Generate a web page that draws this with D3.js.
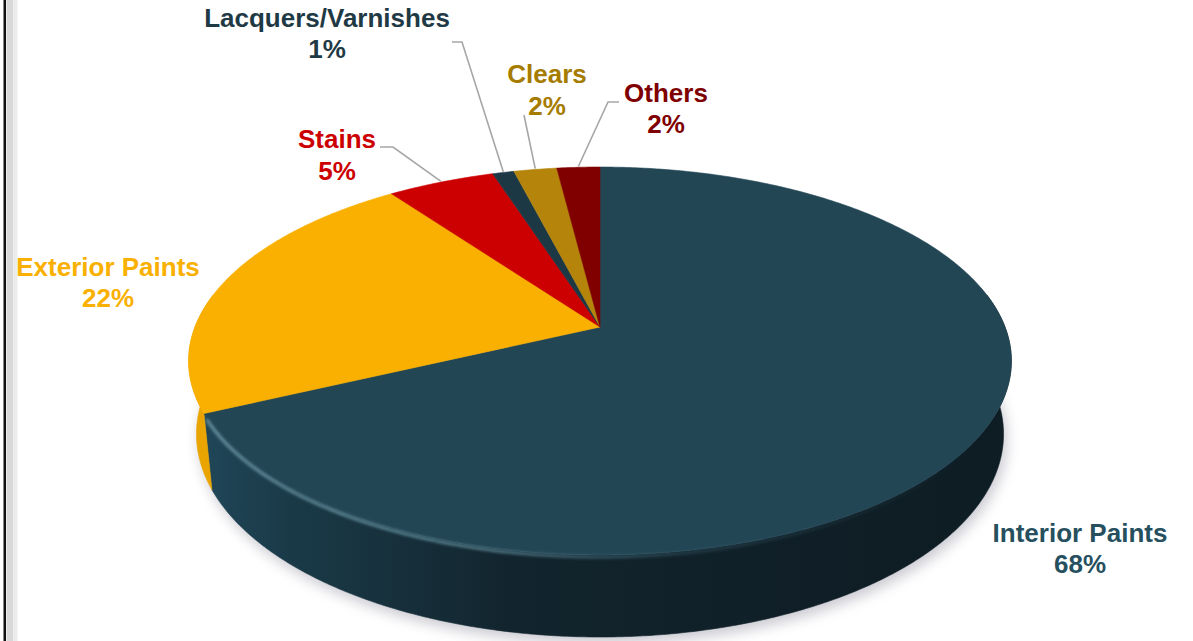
<!DOCTYPE html>
<html>
<head>
<meta charset="utf-8">
<script src="https://cdn.jsdelivr.net/npm/d3@7"></script>
<style>
  html, body { margin: 0; padding: 0; background: #ffffff; }
  svg { display: block; }
  text { font-family: "Liberation Sans", Arial, Helvetica, sans-serif; font-weight: bold; }
</style>
</head>
<body>
<svg id="chart" width="1193" height="641"></svg>
<script>
// Paint & coatings market share by product type (%)
const categories = ["Interior Paints", "Exterior Paints", "Stains", "Lacquers/Varnishes", "Clears", "Others"];
const shares = [68, 22, 5, 1, 2, 2];
const valueLabels = ["68%", "22%", "5%", "1%", "2%", "2%"];

// Colours per slice: top face, outer wall, label text
const topColors = ["#234655", "#f9b000", "#cc0000", "#1c3845", "#b5840a", "#800000"];
const wallColors = ["url(#wallInterior)", "#eaa400", "#a80000", "#14262f", "#94690a", "#600000"];
const labelColors = ["#27505f", "#f9b000", "#cc0000", "#1f3a45", "#a67c00", "#7f0000"];

// Label placement: centre x, first baseline, line gap; leader start and elbow (null = none)
const labelLayout = {
  "Interior Paints":    { x: 1080, y: 542, gap: 31, leader: null },
  "Exterior Paints":    { x: 108,  y: 276, gap: 31, leader: null },
  "Stains":             { x: 337,  y: 148, gap: 32, leader: [[380, 147], [393, 147]] },
  "Lacquers/Varnishes": { x: 327,  y: 27,  gap: 31, leader: [[452, 42], [462, 42]] },
  "Clears":             { x: 547,  y: 83,  gap: 32, leader: [[524, 115], [524, 115]] },
  "Others":             { x: 666,  y: 102, gap: 31, leader: [[619, 102], [608, 102]] }
};

const svg = d3.select("#chart");
const W = 1193, H = 641;

// Frame on the left edge
svg.append("rect").attr("x", 0).attr("y", 0).attr("width", W).attr("height", H).attr("fill", "#ffffff");
svg.append("rect").attr("x", 3.5).attr("y", 0).attr("width", 2.5).attr("height", H).attr("fill", "#111111");
svg.append("rect").attr("x", 6.5).attr("y", 0).attr("width", 7).attr("height", H).attr("fill", "#d9d9d9");
svg.append("rect").attr("x", 13.5).attr("y", 0).attr("width", 4).attr("height", H).attr("fill", "#ececec");

const defs = svg.append("defs");
const shadowBlur = defs.append("filter").attr("id", "shadowBlur")
  .attr("x", "-20%").attr("y", "-20%").attr("width", "140%").attr("height", "140%");
shadowBlur.append("feGaussianBlur").attr("stdDeviation", 7);
const softBlur = defs.append("filter").attr("id", "softBlur")
  .attr("x", "-10%").attr("y", "-10%").attr("width", "120%").attr("height", "120%");
softBlur.append("feGaussianBlur").attr("stdDeviation", 1.6);

const wallGrad = defs.append("linearGradient").attr("id", "wallInterior")
  .attr("gradientUnits", "userSpaceOnUse").attr("x1", 190).attr("y1", 0).attr("x2", 1010).attr("y2", 0);
[[0, "#21485a"], [0.12, "#1a3a48"], [0.4, "#12242d"], [0.75, "#101f27"], [1, "#0e1c23"]]
  .forEach(([o, c]) => wallGrad.append("stop").attr("offset", o).attr("stop-color", c));

const hlGrad = defs.append("linearGradient").attr("id", "rimHighlight")
  .attr("gradientUnits", "userSpaceOnUse").attr("x1", 210).attr("y1", 0).attr("x2", 1000).attr("y2", 0);
[[0, "#6f9aa8", 0.9], [0.35, "#5f8d9c", 0.85], [0.6, "#3f6a7a", 0.4], [1, "#2a4b58", 0]]
  .forEach(([o, c, a]) => hlGrad.append("stop").attr("offset", o).attr("stop-color", c).attr("stop-opacity", a));

// Perspective view of a tilted disc
const cx = 600, cy = 327, R = 405, depth = 83;
const tilt = Math.asin(188 / R);
const camDist = 2047;
function project(theta, y) {
  const x = R * Math.sin(theta), z = R * Math.cos(theta);
  const Y = y * Math.cos(tilt) + z * Math.sin(tilt);
  const Zc = -y * Math.sin(tilt) + z * Math.cos(tilt);
  const s = camDist / (camDist + Zc);
  return [cx + x * s, cy - Y * s];
}
function arcPoints(a0, a1, y) {
  const n = Math.max(2, Math.ceil(Math.abs(a1 - a0) / (Math.PI / 360)));
  return d3.range(n + 1).map(i => project(a0 + (a1 - a0) * i / n, y));
}
const line = d3.line();

const arcs = d3.pie().sort(null).value(d => d)(shares);

// Drop shadow under the disc
svg.append("path")
  .attr("d", line(arcPoints(0, 2 * Math.PI, -depth - 2)) + "Z")
  .attr("transform", "translate(3,4)")
  .attr("fill", "#9a9aa8").attr("opacity", 0.55)
  .attr("filter", "url(#shadowBlur)");

// Outer walls (front half only)
const frontLo = 80 * Math.PI / 180, frontHi = 280 * Math.PI / 180;
arcs.forEach((a, i) => {
  const a0 = Math.max(a.startAngle, frontLo), a1 = Math.min(a.endAngle, frontHi);
  if (a1 <= a0) return;
  const pts = arcPoints(a0, a1, 0).concat(arcPoints(a1, a0, -depth));
  svg.append("path").attr("d", line(pts) + "Z")
    .attr("fill", wallColors[i]).attr("stroke", wallColors[i]).attr("stroke-width", 0.6);
});

// Top faces
arcs.forEach((a, i) => {
  const pts = [[cx, cy]].concat(arcPoints(a.startAngle, a.endAngle, 0));
  svg.append("path").attr("d", line(pts) + "Z")
    .attr("fill", topColors[i]).attr("stroke", topColors[i]).attr("stroke-width", 0.6)
    .attr("stroke-linejoin", "round");
});

// Bevel highlight along the front rim of the largest slice
svg.append("path")
  .attr("d", line(arcPoints(arcs[0].endAngle - 0.02, 100 * Math.PI / 180, -2)))
  .attr("fill", "none").attr("stroke", "url(#rimHighlight)").attr("stroke-width", 3)
  .attr("filter", "url(#softBlur)");

// Labels and leader lines
arcs.forEach((a, i) => {
  const lay = labelLayout[categories[i]];
  if (lay.leader) {
    const mid = (a.startAngle + a.endAngle) / 2;
    const end = project(mid, 1);
    svg.append("path").attr("d", line(lay.leader.concat([end])))
      .attr("fill", "none").attr("stroke", "#a6a6a6").attr("stroke-width", 1.6);
  }
  const t = svg.append("text").attr("text-anchor", "middle")
    .attr("font-size", 26).attr("fill", labelColors[i]);
  t.append("tspan").attr("x", lay.x).attr("y", lay.y).text(categories[i]);
  t.append("tspan").attr("x", lay.x).attr("y", lay.y + lay.gap).text(valueLabels[i]);
});
</script>
</body>
</html>
